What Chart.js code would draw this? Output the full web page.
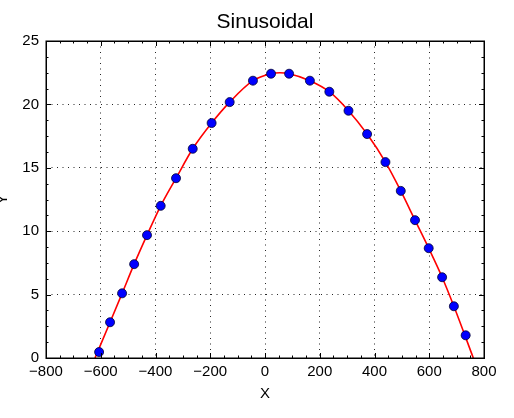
<!DOCTYPE html>
<html><head><meta charset="utf-8">
<script src="https://cdn.jsdelivr.net/npm/chart.js@4.4.0/dist/chart.umd.min.js"></script>
<style>html,body{margin:0;padding:0;background:#fff;overflow:hidden;}#wrap{width:514px;height:418px;position:relative;}</style>
</head><body><div id="wrap"><canvas id="c" width="514" height="418"></canvas></div>
<script>
const chartTitle = 'Sinusoidal';
const xAxisLabel = 'X';
const yAxisLabel = 'Y';

const pointX = [-606, -566, -522, -478, -431, -381, -325, -264, -195, -129, -44, 22, 88, 164, 235, 305, 373, 440, 496, 548, 598, 647, 690, 733];
const pointY = [0.47, 2.82, 5.1, 7.4, 9.69, 12.0, 14.18, 16.5, 18.53, 20.18, 21.87, 22.42, 22.42, 21.87, 21.0, 19.5, 17.66, 15.45, 13.18, 10.87, 8.66, 6.37, 4.08, 1.79];

const fitX = [-621, -566, -522, -478, -431, -381, -325, -264, -195, -129, -44, 22, 54, 88, 164, 235, 305, 373, 440, 496, 548, 598, 647, 690, 761];
const fitY = [0, 2.82, 5.1, 7.4, 9.69, 12.0, 14.18, 16.5, 18.53, 20.18, 21.87, 22.42, 22.5, 22.42, 21.87, 21.0, 19.5, 17.66, 15.45, 13.18, 10.87, 8.66, 6.37, 4.08, 0];

const xTickLabels = ['\u2212800', '\u2212600', '\u2212400', '\u2212200', '0', '200', '400', '600', '800'];
const yTickLabels = ['0', '5', '10', '15', '20', '25'];

const FONT = '"Liberation Sans", Arial, sans-serif';
Chart.defaults.font.family = FONT;
Chart.defaults.color = '#000';

const framePlugin = {
  id: 'frame',
  afterDatasetsDraw(chart) {
    const {ctx, chartArea: a, scales: {x, y}} = chart;
    ctx.save();
    ctx.strokeStyle = '#000';
    ctx.lineWidth = 1;
    ctx.beginPath();
    for (let v = x.min; v <= x.max + 1e-9; v += 50) {
      const px = Math.round(x.getPixelForValue(v)) + 0.5;
      const len = (Math.abs(v) % 200 === 0) ? 5 : 2.5;
      ctx.moveTo(px, a.bottom); ctx.lineTo(px, a.bottom - len);
      ctx.moveTo(px, a.top); ctx.lineTo(px, a.top + len);
    }
    for (let v = y.min; v <= y.max + 1e-9; v += 1.25) {
      const py = Math.round(y.getPixelForValue(v)) + 0.5;
      const len = (Math.abs(v) % 5 === 0) ? 5 : 2.5;
      ctx.moveTo(a.left, py); ctx.lineTo(a.left + len, py);
      ctx.moveTo(a.right, py); ctx.lineTo(a.right - len, py);
    }
    ctx.stroke();
    ctx.lineWidth = 1.5;
    ctx.strokeRect(Math.round(a.left) + 0.25, Math.round(a.top) + 0.25, Math.round(a.right - a.left), Math.round(a.bottom - a.top));
    ctx.fillStyle = '#000';
    ctx.font = '21px ' + FONT;
    ctx.textAlign = 'center';
    ctx.textBaseline = 'alphabetic';
    ctx.fillText(chartTitle, (a.left + a.right) / 2, 27.5);
    ctx.restore();
  }
};

new Chart(document.getElementById('c'), {
  type: 'scatter',
  data: {
    datasets: [
      {
        label: 'data',
        data: pointX.map((v, i) => ({x: v, y: pointY[i]})),
        backgroundColor: '#0000ff',
        borderColor: '#000033',
        borderWidth: 0.8,
        pointRadius: 4.5,
        order: 0
      },
      {
        label: 'fit',
        data: fitX.map((v, i) => ({x: v, y: fitY[i]})),
        showLine: true,
        borderColor: '#ff0000',
        borderWidth: 1.6,
        pointRadius: 0,
        cubicInterpolationMode: 'monotone',
        fill: false,
        order: 1
      }
    ]
  },
  options: {
    responsive: false,
    animation: false,
    layout: {padding: {left: 0, right: 30, top: 41, bottom: 0}},
    plugins: {legend: {display: false}, tooltip: {enabled: false}, title: {display: false}},
    scales: {
      x: {
        type: 'linear', min: -800, max: 800,
        afterFit(s) { s.height = 60; },
        ticks: {stepSize: 200, padding: 5, font: {size: 15}, maxRotation: 0,
          callback: (v, i) => xTickLabels[i]},
        grid: {drawTicks: false, color: 'rgba(0,0,0,0.85)', lineWidth: 1},
        border: {display: false, dash: [1, 4.5]},
        title: {display: true, text: xAxisLabel, font: {size: 15}, padding: {top: 0, bottom: 15}}
      },
      y: {
        type: 'linear', min: 0, max: 25,
        afterFit(s) { s.width = 46; },
        ticks: {stepSize: 5, padding: 7, font: {size: 15},
          callback: (v, i) => yTickLabels[i]},
        grid: {drawTicks: false, color: 'rgba(0,0,0,0.85)', lineWidth: 1},
        border: {display: false, dash: [1, 4.5]},
        title: {display: true, text: yAxisLabel, font: {size: 15}, padding: {top: -6.5, bottom: 0}}
      }
    }
  },
  plugins: [framePlugin]
});
</script>
</body></html>
